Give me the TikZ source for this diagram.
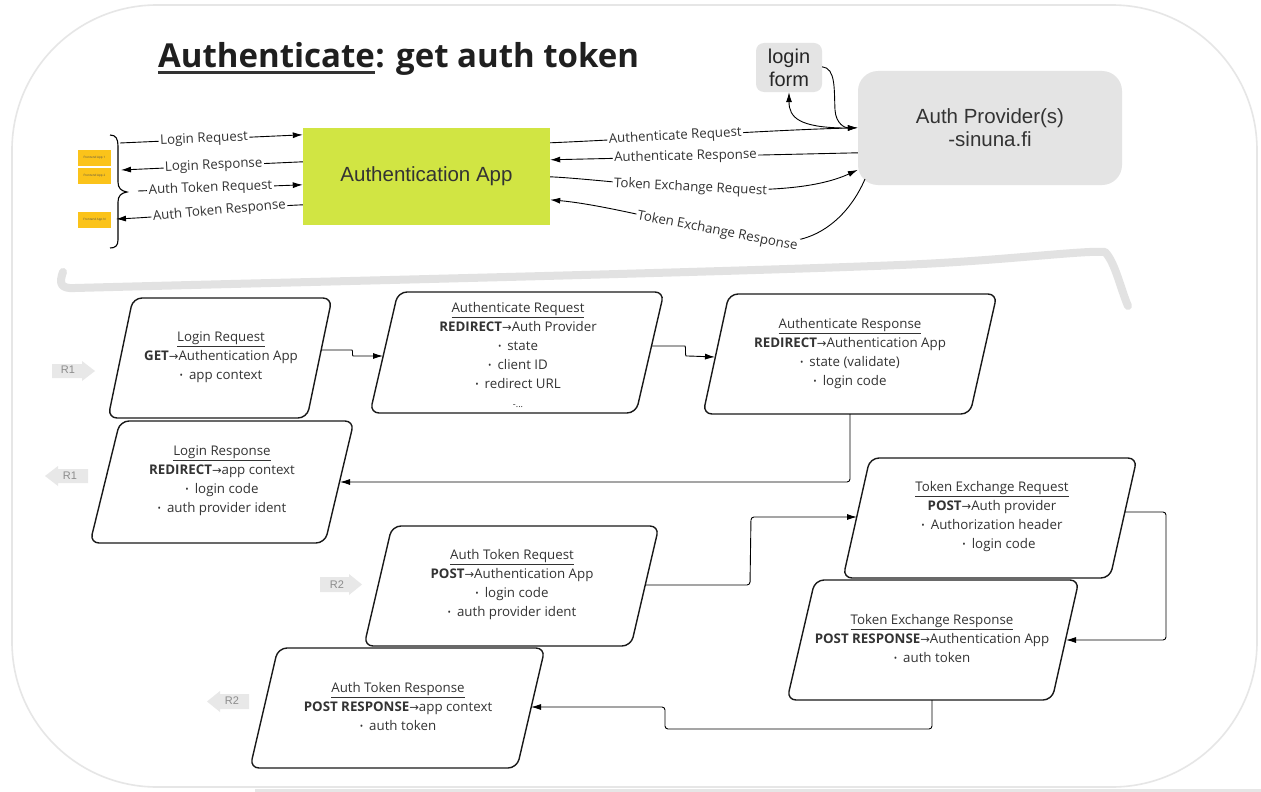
\documentclass[tikz,border=0pt]{standalone}
\usepackage{fontspec}
\setmainfont{Open Sans}
\newfontfamily\arialf{Liberation Sans}
\newfontfamily\dejavuf{DejaVu Sans}
\usetikzlibrary{arrows.meta,calc}
\definecolor{appgreen}{HTML}{D1E543}
\definecolor{apgray}{HTML}{E4E4E4}
\definecolor{fyellow}{HTML}{FBC31A}
\definecolor{txt}{HTML}{333333}
\definecolor{framegray}{HTML}{E6E6E6}
\definecolor{sepgray}{HTML}{E2E2E2}
\definecolor{rgray}{HTML}{E8E8E8}
\newcommand\pbul{{\fontsize{9}{9}\selectfont\raisebox{1pt}{•}}\hspace{6pt}}
\newcommand\parr{{\dejavuf\fontsize{11.5}{11}\selectfont →}}
\tikzset{
  flow/.style={draw=black, line width=0.9pt},
  arr/.style={flow, -{Latex[length=10pt,width=6pt]}},
  barr/.style={flow, rounded corners=3pt, -{Latex[length=10pt,width=6pt]}},
  lbl/.style={fill=white, inner sep=1.5pt, text=txt, font=\fontsize{13.3}{15}\selectfont},
  para/.style={draw=black!90, line width=1.4pt, rounded corners=9pt, fill=white},
  ptext/.style={align=center, text=txt, inner sep=0pt, font=\fontsize{13.3}{19}\selectfont},
  rtext/.style={text=black!45, inner sep=0pt, font=\arialf\fontsize{11}{12}\selectfont},
  fapp/.style={fill=fyellow, minimum width=33pt, minimum height=16pt, inner sep=0pt, text=black!70, font=\fontsize{3}{3}\selectfont}
}
\begin{document}
\begin{tikzpicture}[x=1pt,y=-1pt]
\useasboundingbox (0,0) rectangle (1261,792);
\fill[white] (0,0) rectangle (1261,792);
% outer frame
\draw[framegray, line width=1.6pt, rounded corners=145pt] (12,5) rectangle (1257,787);
\fill[framegray] (255,788.5) rectangle (1261,792);

% title
\node[anchor=base west, inner sep=0, font=\bfseries\fontsize{33}{40}\selectfont, text=black!88] (t1) at (158,68) {Authenticate};
\node[anchor=base west, inner sep=0, font=\bfseries\fontsize{33}{40}\selectfont, text=black!88] (t2) at (t1.base east) {: get auth token};
\draw[line width=2.6pt, black!80] ([yshift=-4.5pt]t1.base west) -- ([yshift=-4.5pt]t1.base east);

% main boxes
\node[fill=appgreen, minimum width=247pt, minimum height=97pt, inner sep=0, text=txt, font=\arialf\fontsize{20.5}{24}\selectfont] (app) at (426.5,176.5) {Authentication App};
\node[fill=apgray, rounded corners=20pt, minimum width=264pt, minimum height=114pt, inner sep=0, align=center, text=txt, font=\arialf\fontsize{20.5}{23}\selectfont] (ap) at (990,128) {Auth Provider(s)\\-sinuna.fi};
\node[fill=apgray, rounded corners=8pt, minimum width=66pt, minimum height=49pt, inner sep=0, align=center, text=black!85, font=\arialf\fontsize{20}{23}\selectfont] (lf) at (789,67.5) {login\\form};

% frontend apps
\node[fapp] (fa1) at (94.5,157.5) {Frontend App 1};
\node[fapp] (fa2) at (94.5,176) {Frontend App 2};
\node[fapp] (fan) at (94.5,220) {Frontend App N};

% braces
\draw[line width=1.1pt] (110,135) .. controls (116,135) and (118,139) .. (118,146) -- (118,182) .. controls (118,188) and (121,191) .. (127,192) .. controls (121,193) and (118,196) .. (118,202) -- (118,240) .. controls (118,246) and (115,248) .. (110,248);
\coordinate (brA) at (120,143);
\coordinate (brB) at (121,170);
\coordinate (brC) at (138,191);
\coordinate (brD) at (116,219);

% left connectors
\draw[arr] (brA) -- node[lbl,sloped,pos=0.46]{Login Request} ([yshift=-7pt]app.north west);
\draw[arr] ([yshift=-34pt]app.north west) -- node[lbl,sloped,pos=0.49]{Login Response} (brB);
\draw[arr] (brC) -- node[lbl,sloped,pos=0.44]{Auth Token Request} ([yshift=-57pt]app.north west);
\draw[arr] ([yshift=-77pt]app.north west) .. controls (250,207) and (180,216) .. node[lbl,sloped,pos=0.47]{Auth Token Response} (brD);

% right connectors
\draw[arr] ([yshift=-15pt]app.north east) .. controls (640,139) and (770,130) .. node[lbl,sloped,pos=0.41]{Authenticate Request} ([yshift=-57pt]ap.north west);
\draw[arr] ([yshift=-82pt]ap.north west) -- node[lbl,sloped,pos=0.56]{Authenticate Response} ([yshift=-32pt]app.north east);
\draw[arr] ([yshift=-49pt]app.north east) .. controls (620,180) and (780,206) .. node[lbl,sloped,pos=0.47]{Token Exchange Request} ([yshift=-99pt]ap.north west);
\coordinate (apc) at (865,179);
\draw[arr] (apc) .. controls (850,214) and (822,238) .. (790,241) .. controls (730,240) and (620,206) .. node[lbl,sloped,pos=0.33]{Token Exchange Response} ([yshift=-72pt]app.north east);

% login form connectors
\draw[arr] ([yshift=-24pt]lf.north east) .. controls (836,68) and (834,90) .. (835,110) .. controls (836,124) and (845,128) .. ([yshift=-57pt]ap.north west);
\coordinate (lfr) at (842,128);
\draw[arr] (lfr) .. controls (800,127) and (789,118) .. (lf.south);

% separator
\draw[sepgray, line width=8pt, line cap=round, line join=round] (63,272) .. controls (59,283) and (60,289) .. (75,288) .. controls (300,282) and (700,273) .. (900,265) .. controls (1000,261) and (1085,250) .. (1105,252) .. controls (1115,262) and (1121,290) .. (1128,306);

% parallelograms
\draw[para] (133,298) -- (332,298) -- (307,418) -- (108,418) -- cycle;
\draw[para] (398,292) -- (664,292) -- (636,413) -- (370,413) -- cycle;
\draw[para] (729,294) -- (997,294) -- (970,414) -- (703,414) -- cycle;
\draw[para] (120,421) -- (354,421) -- (325,543) -- (90,543) -- cycle;
\draw[para] (870,458) -- (1137,458) -- (1110,578) -- (843,578) -- cycle;
\draw[para] (392,526) -- (659,526) -- (631,646) -- (364,646) -- cycle;
\draw[para] (815,580) -- (1079,580) -- (1052,700) -- (787,700) -- cycle;
\draw[para] (278,648) -- (545,648) -- (517,768) -- (250,768) -- cycle;

\node[ptext] (p1) at (221,357) {\underline{Login Request}\\\textbf{GET}\parr Authentication App\\\pbul app context};
\node[ptext] (p2) at (518,355) {\underline{Authenticate Request}\\\textbf{REDIRECT}\parr Auth Provider\\\pbul state\\\pbul client ID\\\pbul redirect URL\\{\fontsize{9}{9}\selectfont -...}};
\node[ptext] (p3) at (850,354) {\underline{Authenticate Response}\\\textbf{REDIRECT}\parr Authentication App\\\pbul state (validate)\\\pbul login code};
\node[ptext] (p4) at (222,481) {\underline{Login Response}\\\textbf{REDIRECT}\parr app context\\\pbul login code\\\pbul auth provider ident};
\node[ptext] (p5) at (992,517) {\underline{Token Exchange Request}\\\textbf{POST}\parr Auth provider\\\pbul Authorization header\\\hspace{14pt}\pbul login code};
\node[ptext] (p6) at (512,585) {\underline{Auth Token Request}\\\textbf{POST}\parr Authentication App\\\pbul login code\\\pbul auth provider ident};
\node[ptext] (p7) at (932,639) {\underline{Token Exchange Response}\\\textbf{POST RESPONSE}\parr Authentication App\\\pbul auth token};
\node[ptext] (p8) at (398,707) {\underline{Auth Token Response}\\\textbf{POST RESPONSE}\parr app context\\\pbul auth token};

% connection points
\coordinate (p1r) at (321,350);
\coordinate (p2l) at (383,356);
\coordinate (p2r) at (651,346);
\coordinate (p3l) at (715,357);
\coordinate (p3b) at (850,414);
\coordinate (p4r) at (340,482);
\coordinate (p6r) at (645,585);
\coordinate (p5l) at (857,517);
\coordinate (p5r) at (1125,512);
\coordinate (p7r) at (1066,640);
\coordinate (p7b) at (932,700);
\coordinate (p8r) at (531,707);

\draw[barr] (p1r) -- (349,350) .. controls (353,350) and (352,356) .. (356,356) -- (p2l);
\draw[barr] (p2r) -- (682,346) .. controls (686,346) and (685,356) .. (689,356) -- (p3l);
\draw[barr] (p3b) |- (p4r);
\draw[barr] (p6r) -- (750,585) -- (751,517) -- (p5l);
\draw[barr] (p5r) -- (1166,512) -- (1166,640) -- (p7r);
\draw[barr] (p7b) -- (932,729) -- (665,729) -- (665,707) -- (p8r);

% R arrows
\fill[rgray] (52,364) -- (82,364) -- (82,361) -- (95,371) -- (82,381) -- (82,378) -- (52,378) -- cycle;
\node[rtext] (r1a) at (68,370) {R1};
\fill[rgray] (88,469) -- (58,469) -- (58,466) -- (45,476) -- (58,486) -- (58,483) -- (88,483) -- cycle;
\node[rtext] (r1b) at (70,476) {R1};
\fill[rgray] (320,577) -- (349,577) -- (349,574) -- (362,584.5) -- (349,595) -- (349,592) -- (320,592) -- cycle;
\node[rtext] (r2a) at (337,585) {R2};
\fill[rgray] (249,694) -- (220,694) -- (220,691) -- (207,701.5) -- (220,712) -- (220,709) -- (249,709) -- cycle;
\node[rtext] (r2b) at (232,701) {R2};
\end{tikzpicture}
\end{document}
